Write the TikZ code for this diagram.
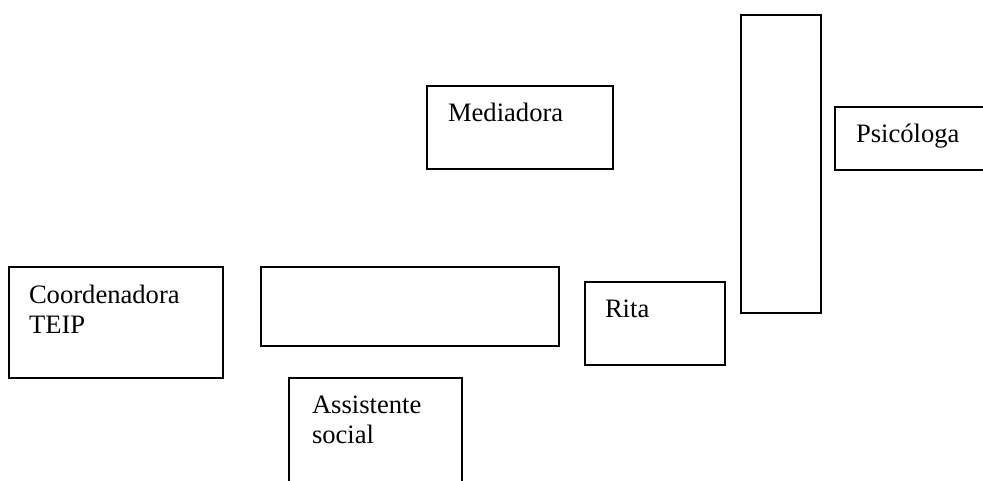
\documentclass[tikz,border=0pt]{standalone}
\usepackage{fontspec}
\setmainfont{Liberation Serif}
\usetikzlibrary{calc}
\tikzset{
  box/.style={draw, line width=1.7pt, inner sep=0pt, outer sep=0pt, anchor=north west, fill=white},
  lbl/.style={inner sep=0pt, outer sep=0pt, anchor=base west, align=left, font=\fontsize{26.6}{30}\selectfont}
}
\begin{document}
\begin{tikzpicture}[x=1pt,y=-1pt]
\useasboundingbox (0,0) rectangle (983,481);
\clip (0,0) rectangle (983,481);
\node[box, minimum width=186pt, minimum height=83pt] (med) at (427,86) {};
\node[box, minimum width=80pt, minimum height=298pt] (tall) at (741,15) {};
\node[box, minimum width=160pt, minimum height=63pt] (psi) at (835,107) {};
\node[box, minimum width=214pt, minimum height=111pt] (coord) at (9,267) {};
\node[box, minimum width=298pt, minimum height=79pt] (empty) at (261,267) {};
\node[box, minimum width=140pt, minimum height=83pt] (rita) at (585,282) {};
\node[box, minimum width=173pt, minimum height=120pt] (ass) at (289,378) {};
\node[lbl] (tmed) at ($(med.north west)+(21,36)$) {Mediadora};
\node[lbl] (tpsi) at ($(psi.north west)+(21,36)$) {Psicóloga};
\node[lbl] (tcoord) at ($(coord.north west)+(20,66)$) {Coordenadora\\TEIP};
\node[lbl] (trita) at ($(rita.north west)+(20,35)$) {Rita};
\node[lbl] (tass) at ($(ass.north west)+(23,65)$) {Assistente\\social};
\end{tikzpicture}
\end{document}
